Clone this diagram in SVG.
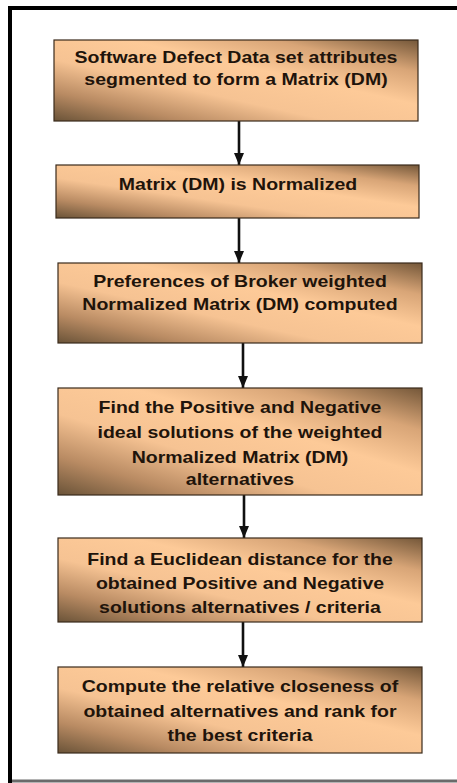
<svg xmlns="http://www.w3.org/2000/svg" width="457" height="783" viewBox="0 0 457 783">
  <defs>
    <!-- diagonal fill: dark at bottom-left and top-right, wide light band through the middle -->
    <linearGradient id="boxFill" x1="0" y1="1" x2="1" y2="0">
      <stop offset="0" stop-color="#6a5338"/>
      <stop offset="0.18" stop-color="#b98b63"/>
      <stop offset="0.38" stop-color="#f6c393"/>
      <stop offset="0.6" stop-color="#fdca98"/>
      <stop offset="0.8" stop-color="#d8a577"/>
      <stop offset="1" stop-color="#745739"/>
    </linearGradient>
    <marker id="arrowHead" viewBox="0 0 12 10" refX="12" refY="5" markerWidth="12" markerHeight="10" markerUnits="userSpaceOnUse" orient="auto">
      <path d="M0,0 L12,5 L0,10 Z" fill="#111"/>
    </marker>
  </defs>
  <style>
    .box { fill: url(#boxFill); stroke: #3a2a1c; stroke-width: 1.2; }
    .label { font-family: "Liberation Sans", Arial, sans-serif; font-weight: bold; font-size: 16px; fill: #1f140b; text-anchor: middle; }
    .conn { stroke: #111; stroke-width: 2.6; fill: none; marker-end: url(#arrowHead); }
    .frame { stroke: #000; stroke-width: 4; fill: none; }
  </style>

  <rect width="457" height="783" fill="#ffffff"/>

  <!-- outer frame (open on the right) -->
  <g id="frame">
    <path class="frame" d="M457,8 H10 V783"/>
    <line x1="12" y1="781" x2="457" y2="781" stroke="#6a6a6a" stroke-width="3"/>
  </g>

  <g id="connectors">
    <line class="conn" x1="239" y1="121" x2="239" y2="165"/>
    <line class="conn" x1="239" y1="218" x2="239" y2="263"/>
    <line class="conn" x1="243" y1="343" x2="243" y2="388"/>
    <line class="conn" x1="244" y1="495" x2="244" y2="538"/>
    <line class="conn" x1="243" y1="622" x2="243" y2="667"/>
  </g>

  <g id="step1">
    <rect class="box" x="54" y="40" width="364" height="81"/>
    <g transform="translate(236 0) scale(1.22 1)">
      <text class="label" x="0" y="63">Software Defect Data set attributes</text>
      <text class="label" x="0" y="85.5">segmented to form a Matrix (DM)</text>
    </g>
  </g>

  <g id="step2">
    <rect class="box" x="56" y="165" width="363" height="53"/>
    <g transform="translate(238 0) scale(1.22 1)">
      <text class="label" x="0" y="190">Matrix (DM) is Normalized</text>
    </g>
  </g>

  <g id="step3">
    <rect class="box" x="58" y="263" width="364" height="80"/>
    <g transform="translate(240 0) scale(1.22 1)">
      <text class="label" x="0" y="287">Preferences of Broker weighted</text>
      <text class="label" x="0" y="310">Normalized Matrix (DM) computed</text>
    </g>
  </g>

  <g id="step4">
    <rect class="box" x="58" y="388" width="364" height="107"/>
    <g transform="translate(240 0) scale(1.22 1)">
      <text class="label" x="0" y="413">Find the Positive and Negative</text>
      <text class="label" x="0" y="438">ideal solutions of the weighted</text>
      <text class="label" x="0" y="463">Normalized Matrix (DM)</text>
      <text class="label" x="0" y="485">alternatives</text>
    </g>
  </g>

  <g id="step5">
    <rect class="box" x="58" y="538" width="364" height="84"/>
    <g transform="translate(240 0) scale(1.22 1)">
      <text class="label" x="0" y="565">Find a Euclidean distance for the</text>
      <text class="label" x="0" y="589">obtained Positive and Negative</text>
      <text class="label" x="0" y="613">solutions alternatives / criteria</text>
    </g>
  </g>

  <g id="step6">
    <rect class="box" x="58" y="667" width="364" height="86"/>
    <g transform="translate(240 0) scale(1.22 1)">
      <text class="label" x="0" y="692">Compute the relative closeness of</text>
      <text class="label" x="0" y="717">obtained alternatives and rank for</text>
      <text class="label" x="0" y="741">the best criteria</text>
    </g>
  </g>
</svg>
